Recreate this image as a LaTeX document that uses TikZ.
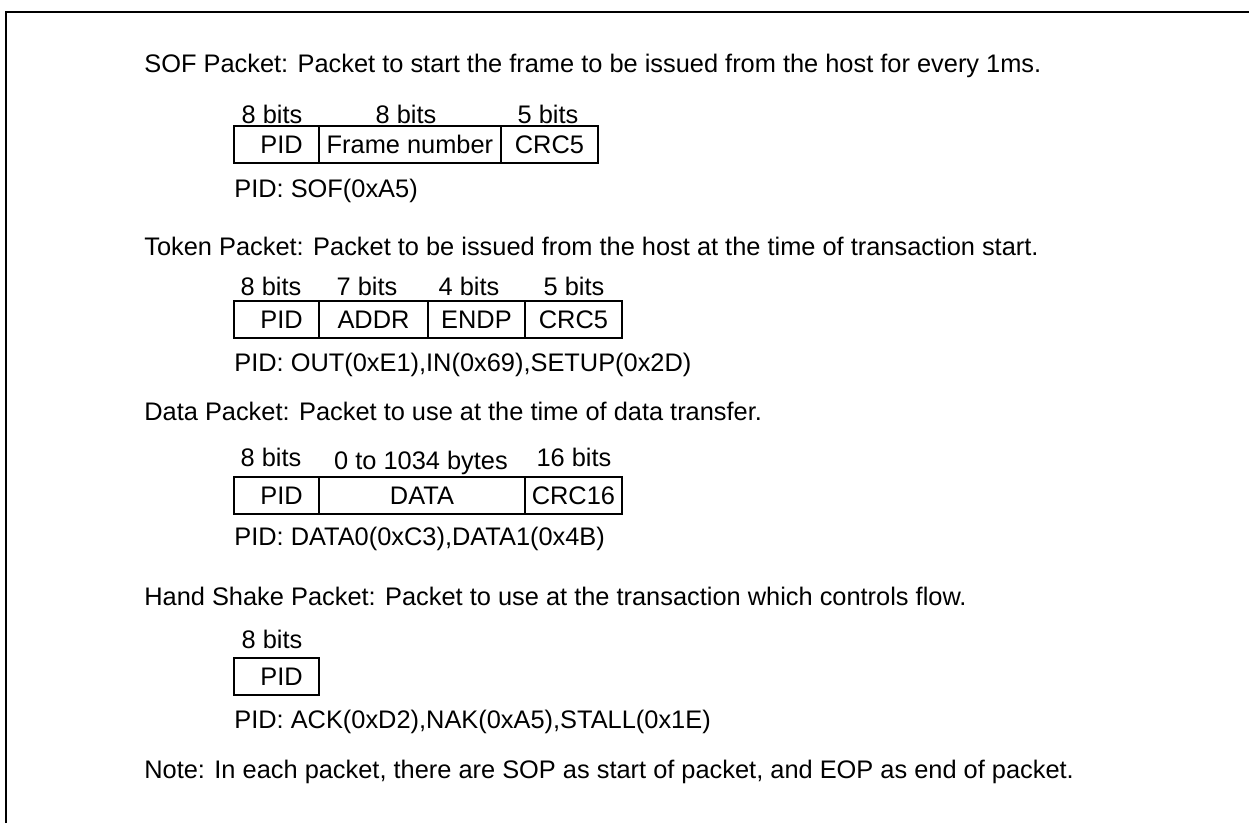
\documentclass[tikz,border=0pt]{standalone}
\usepackage{fontspec}
\setmainfont{Liberation Sans}
\usetikzlibrary{positioning}

\begin{document}
\begin{tikzpicture}[
        x=0.02cm, y=-0.02cm,
        every node/.style={font=\fontsize{14.45pt}{17pt}\selectfont, inner sep=0pt},
        head/.style={anchor=base west},
        pidl/.style={anchor=base west},
        bitlab/.style={anchor=base},
        field/.style={draw, line width=1.1pt, outer sep=0pt, inner sep=0pt,
            minimum height=0.74cm},
        frame/.style={line width=1.45pt, line join=miter},
    ]

    \useasboundingbox (0,0) rectangle (1249,823);
    \draw[frame] (6,823) -- (6,12) -- (1249,12);

    % SOF packet
    \node[head] (hsof) at (144,72) {SOF Packet: Packet to start the frame to be issued from the host for every 1ms.};
    \node[bitlab] (sofb1) at (272,123) {8 bits};
    \node[bitlab] (sofb2) at (406,123) {8 bits};
    \node[bitlab] (sofb3) at (548,123) {5 bits};
    \node[field, anchor=north west, minimum width=1.70cm] at (234,126) (sofpid) {\hspace{0.2cm}PID};
    \node[field, minimum width=3.64cm, right=0pt of sofpid] (sofnum) {Frame number};
    \node[field, minimum width=1.94cm, right=0pt of sofnum] (sofcrc) {CRC5};
    \node[pidl] (psof) at (234,197) {PID: SOF(0xA5)};

    % Token packet
    \node[head] (htok) at (144,255) {Token Packet: Packet to be issued from the host at the time of transaction start.};
    \node[bitlab] (tokb1) at (271,295) {8 bits};
    \node[bitlab] (tokb2) at (367,295) {7 bits};
    \node[bitlab] (tokb3) at (469,295) {4 bits};
    \node[bitlab] (tokb4) at (574,295) {5 bits};
    \node[field, anchor=north west, minimum width=1.70cm] at (234,301) (tokpid) {\hspace{0.2cm}PID};
    \node[field, minimum width=2.18cm, right=0pt of tokpid] (tokadr) {ADDR};
    \node[field, minimum width=1.94cm, right=0pt of tokadr] (tokend) {ENDP};
    \node[field, minimum width=1.94cm, right=0pt of tokend] (tokcrc) {CRC5};
    \node[pidl] (ptok) at (234,371) {PID: OUT(0xE1),IN(0x69),SETUP(0x2D)};

    % Data packet
    \node[head] (hdat) at (144,420) {Data Packet: Packet to use at the time of data transfer.};
    \node[bitlab] (datb1) at (271,466) {8 bits};
    \node[bitlab] (datb2) at (421,469) {0 to 1034 bytes};
    \node[bitlab] (datb3) at (574,466) {16 bits};
    \node[field, anchor=north west, minimum width=1.70cm] at (234,477) (datpid) {\hspace{0.2cm}PID};
    \node[field, minimum width=4.12cm, right=0pt of datpid] (datdat) {DATA\hspace{0.3cm}};
    \node[field, minimum width=1.94cm, right=0pt of datdat] (datcrc) {\raisebox{-0.07cm}{CRC16}};
    \node[pidl] (pdat) at (234,545) {PID: DATA0(0xC3),DATA1(0x4B)};

    % Hand shake packet
    \node[head] (hhsk) at (144,605) {Hand Shake Packet: Packet to use at the transaction which controls flow.};
    \node[bitlab] (hskb1) at (272,648) {8 bits};
    \node[field, anchor=north west, minimum width=1.70cm] at (234,658) (hskpid) {\hspace{0.2cm}PID};
    \node[pidl] (phsk) at (234,728) {PID: ACK(0xD2),NAK(0xA5),STALL(0x1E)};

    \node[head] (note) at (144,778) {Note: In each packet, there are SOP as start of packet, and EOP as end of packet.};

\end{tikzpicture}
\end{document}
